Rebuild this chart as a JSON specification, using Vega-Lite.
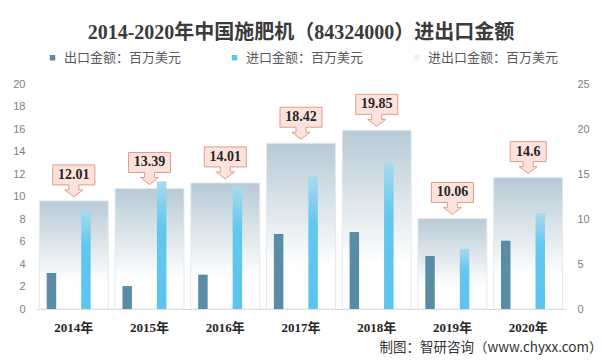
{
  "$schema": "https://vega.github.io/schema/vega-lite/v6.json",
  "width": 530,
  "height": 225,
  "autosize": {"type": "none"},
  "padding": {"left": 36, "top": 84, "right": 37, "bottom": 53},
  "background": "white",
  "title": {
    "text": "2014-2020年中国施肥机（84324000）进出口金额",
    "anchor": "middle",
    "frame": "group",
    "font": "Liberation Serif, Noto Sans CJK SC",
    "fontSize": 20,
    "fontWeight": "bold",
    "color": "#3b3b3b",
    "offset": 8
  },
  "data": {
    "values": [
      {"year": "2014年", "出口": 3.2, "进口": 8.81, "进出口": 12.01},
      {"year": "2015年", "出口": 2.04, "进口": 11.35, "进出口": 13.39},
      {"year": "2016年", "出口": 3.05, "进口": 10.96, "进出口": 14.01},
      {"year": "2017年", "出口": 6.67, "进口": 11.75, "进出口": 18.42},
      {"year": "2018年", "出口": 6.84, "进口": 13.01, "进出口": 19.85},
      {"year": "2019年", "出口": 4.71, "进口": 5.35, "进出口": 10.06},
      {"year": "2020年", "出口": 6.07, "进口": 8.53, "进出口": 14.6}
    ]
  },
  "encoding": {
    "x": {
      "field": "year",
      "type": "nominal",
      "sort": null,
      "scale": {"paddingInner": 0, "paddingOuter": 0},
      "axis": {
        "title": "制图：智研咨询（www.chyxx.com）",
        "titleFont": "Noto Sans CJK SC",
        "titleFontSize": 13.5,
        "titleFontWeight": "normal",
        "titleColor": "#333333",
        "titleAlign": "right",
        "titleAnchor": "end",
        "titleX": 566,
        "titleY": 42,
        "titleBaseline": "alphabetic",
        "labelAngle": 0,
        "labelFont": "Liberation Serif, Noto Sans CJK SC",
        "labelFontWeight": "bold",
        "labelFontSize": 13,
        "labelColor": "#262626",
        "labelPadding": 12,
        "ticks": false,
        "domainColor": "#d9d9d9",
        "domainWidth": 1
      }
    }
  },
  "layer": [
    {
      "layer": [
        {
          "mark": {
            "type": "bar",
            "width": {"band": 0.91},
            "fill": {
              "gradient": "linear",
              "x1": 0, "y1": 0, "x2": 0, "y2": 1,
              "stops": [
                {"offset": 0, "color": "#b7cad6"},
                {"offset": 0.75, "color": "#ffffff"},
                {"offset": 1, "color": "#ffffff"}
              ]
            },
            "stroke": "#e3e9ed",
            "strokeWidth": 1
          },
          "encoding": {
            "y": {
              "field": "进出口",
              "type": "quantitative",
              "scale": {"domain": [0, 25], "nice": false},
              "axis": {
                "orient": "right",
                "title": null,
                "values": [0, 5, 10, 15, 20, 25],
                "domain": false,
                "ticks": false,
                "grid": false,
                "labelColor": "#808080",
                "labelFont": "Liberation Sans",
                "labelFontSize": 11,
                "labelPadding": 11
              }
            }
          }
        },
        {
          "mark": {
            "type": "point",
            "filled": true,
            "size": 4,
            "fill": "#fde3db",
            "stroke": "#e59a88",
            "strokeWidth": 1,
            "opacity": 1
          },
          "encoding": {
            "y": {"field": "进出口", "type": "quantitative"},
            "shape": {
              "condition": {
                "test": "datum.year === '2020年'",
                "value": "M0,-4 L-9,-11 L-5,-11 L-5,-16 L-18,-16 L-18,-36 L18,-36 L18,-16 L5,-16 L5,-11 L9,-11 Z"
              },
              "value": "M0,-4 L-9,-11 L-5,-11 L-5,-16 L-21,-16 L-21,-36 L21,-36 L21,-16 L5,-16 L5,-11 L9,-11 Z"
            }
          }
        },
        {
          "mark": {
            "type": "text",
            "font": "Liberation Serif",
            "fontWeight": "bold",
            "fontSize": 14,
            "color": "#262626",
            "baseline": "middle",
            "align": "center",
            "dy": -26
          },
          "encoding": {
            "y": {"field": "进出口", "type": "quantitative"},
            "text": {"field": "进出口", "type": "nominal"}
          }
        }
      ]
    },
    {
      "transform": [{"fold": ["出口", "进口"], "as": ["key", "value"]}],
      "mark": {"type": "bar"},
      "encoding": {
        "xOffset": {
          "field": "key",
          "type": "nominal",
          "scale": {"domain": ["出口", "进口"], "paddingInner": 0.725, "paddingOuter": 0.46, "align": 0.338}
        },
        "y": {
          "field": "value",
          "type": "quantitative",
          "scale": {"domain": [0, 20], "nice": false},
          "axis": {
            "orient": "left",
            "title": null,
            "values": [0, 2, 4, 6, 8, 10, 12, 14, 16, 18, 20],
            "domain": false,
            "ticks": false,
            "grid": false,
            "labelColor": "#808080",
            "labelFont": "Liberation Sans",
            "labelFontSize": 11,
            "labelPadding": 11
          }
        },
        "color": {
          "condition": {
            "test": "datum.key === '进口'",
            "value": {
              "gradient": "linear",
              "x1": 0, "y1": 0, "x2": 0, "y2": 1,
              "stops": [
                {"offset": 0, "color": "#a9daef"},
                {"offset": 0.35, "color": "#63c7ee"},
                {"offset": 1, "color": "#5bc5ee"}
              ]
            }
          },
          "field": "key",
          "type": "nominal",
          "scale": {
            "domain": ["出口", "进口", "进出口"],
            "range": ["#5a8ca6", "#5bc6ee", "#edf1f4"]
          },
          "legend": {
            "orient": "none",
            "legendX": 10,
            "legendY": -33,
            "direction": "horizontal",
            "title": null,
            "padding": 0,
            "columnPadding": 46,
            "symbolType": "square",
            "symbolSize": 30,
            "symbolStrokeWidth": 0,
            "labelOffset": 5,
            "labelFont": "Noto Sans CJK SC",
            "labelFontSize": 13,
            "labelColor": "#595959",
            "labelExpr": "datum.label + '金额：百万美元'"
          }
        }
      }
    }
  ],
  "resolve": {"scale": {"y": "independent"}, "axis": {"y": "independent"}},
  "config": {"view": {"stroke": null}}
}
